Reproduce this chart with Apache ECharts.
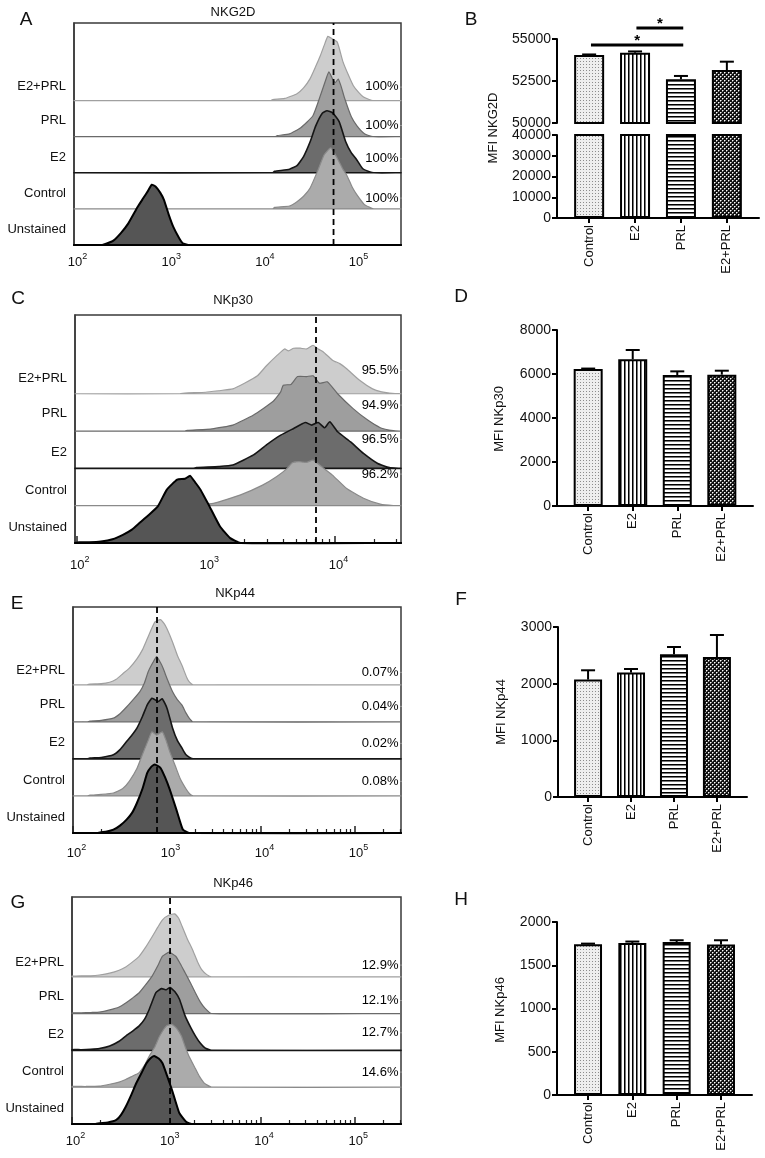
<!DOCTYPE html>
<html><head><meta charset="utf-8">
<script src="https://cdn.jsdelivr.net/npm/echarts@6/dist/echarts.min.js"></script>
<style>html,body{margin:0;padding:0;background:#fff}#c{width:765px;height:1158px}</style>
</head><body><div id="c"></div>
<script>
// ---------- DATA ----------
const rowNames = ['Unstained', 'Control', 'E2', 'PRL', 'E2+PRL'];
const groups = ['Control', 'E2', 'PRL', 'E2+PRL'];

// Histogram curves: [log10 fluorescence, height in row units]
const nkg2dUnstained = [[2,0],[2.3,0],[2.35,0.04],[2.42,0.12],[2.5,0.33],[2.58,0.6],[2.68,1.06],[2.74,1.3],[2.79,1.5],[2.83,1.67],[2.87,1.62],[2.92,1.45],[2.96,1.25],[3.01,0.85],[3.06,0.5],[3.12,0.2],[3.16,0.05],[3.22,0],[5.49,0]];
const nkg2dControl = [[2,0],[4.12,0],[4.14,0.04],[4.3,0.08],[4.38,0.2],[4.45,0.35],[4.52,0.58],[4.6,1.05],[4.67,1.5],[4.74,1.69],[4.8,1.45],[4.87,1.1],[4.91,0.94],[4.97,0.6],[5.02,0.39],[5.1,0.12],[5.16,0.04],[5.2,0],[5.49,0]];
const nkg2dE2 = [[2,0],[4.12,0],[4.14,0.04],[4.3,0.1],[4.38,0.2],[4.45,0.45],[4.52,0.86],[4.58,1.3],[4.65,1.65],[4.7,1.72],[4.76,1.66],[4.83,1.42],[4.9,0.86],[4.96,0.55],[5.01,0.39],[5.08,0.12],[5.16,0.02],[5.2,0],[5.49,0]];
const nkg2dPRL = [[2,0],[4.15,0],[4.17,0.03],[4.3,0.08],[4.42,0.25],[4.55,0.58],[4.63,1.14],[4.69,1.6],[4.72,1.8],[4.76,1.6],[4.79,1.5],[4.82,1.6],[4.85,1.4],[4.89,1.05],[4.96,0.55],[5.02,0.3],[5.1,0.08],[5.19,0],[5.49,0]];
const nkg2dE2PRL = [[2,0],[4.1,0],[4.12,0.03],[4.25,0.06],[4.38,0.19],[4.45,0.35],[4.52,0.61],[4.58,0.95],[4.63,1.25],[4.68,1.6],[4.71,1.78],[4.75,1.72],[4.81,1.62],[4.87,1.08],[4.93,0.7],[4.98,0.42],[5.04,0.22],[5.09,0.1],[5.15,0.03],[5.19,0],[5.49,0]];

const nkp30Unstained = [[1.99,0],[2.02,0.02],[2.1,0.02],[2.19,0.04],[2.28,0.1],[2.36,0.22],[2.43,0.36],[2.49,0.54],[2.56,0.75],[2.63,0.98],[2.7,1.43],[2.78,1.7],[2.84,1.72],[2.88,1.8],[2.92,1.62],[2.96,1.43],[3.03,0.98],[3.11,0.45],[3.19,0.13],[3.27,0],[4.51,0]];
const nkp30Control = [[1.99,0],[2.85,0],[2.9,0.02],[3.06,0.06],[3.27,0.29],[3.44,0.55],[3.55,0.78],[3.63,1.0],[3.67,1.15],[3.72,1.18],[3.78,1.16],[3.83,1.22],[3.88,1.09],[3.98,0.82],[4.09,0.46],[4.22,0.2],[4.35,0.04],[4.45,0],[4.51,0]];
const nkp30E2 = [[1.99,0],[2.9,0],[2.93,0.02],[3.1,0.05],[3.21,0.09],[3.37,0.36],[3.47,0.63],[3.58,0.89],[3.68,1.07],[3.77,1.23],[3.82,1.16],[3.87,1.23],[3.92,1.09],[3.96,1.25],[4.02,0.98],[4.12,0.71],[4.22,0.4],[4.33,0.13],[4.42,0.02],[4.51,0]];
const nkp30PRL = [[1.99,0],[2.84,0],[2.86,0.02],[3.05,0.06],[3.21,0.16],[3.37,0.43],[3.52,0.79],[3.58,1.05],[3.6,1.23],[3.66,1.25],[3.71,1.46],[3.78,1.46],[3.83,1.48],[3.88,1.28],[3.94,1.32],[4.02,1.0],[4.14,0.6],[4.25,0.3],[4.35,0.09],[4.45,0.01],[4.51,0]];
const nkp30E2PRL = [[1.99,0],[2.8,0],[2.84,0.02],[3.0,0.04],[3.1,0.08],[3.21,0.13],[3.3,0.28],[3.4,0.48],[3.47,0.75],[3.55,1.02],[3.61,1.2],[3.64,1.15],[3.68,1.22],[3.73,1.22],[3.78,1.2],[3.83,1.3],[3.87,1.2],[3.91,1.12],[3.98,0.9],[4.04,0.8],[4.09,0.67],[4.19,0.36],[4.29,0.13],[4.36,0.05],[4.42,0.02],[4.51,0]];

const nkp44Unstained = [[2,0],[2.25,0],[2.3,0.02],[2.36,0.04],[2.43,0.09],[2.5,0.2],[2.57,0.36],[2.63,0.55],[2.68,0.81],[2.74,1.2],[2.79,1.62],[2.83,1.78],[2.87,1.85],[2.93,1.76],[2.98,1.5],[3.03,1.17],[3.1,0.63],[3.14,0.3],[3.17,0.09],[3.24,0],[5.49,0]];
const nkp44Control = [[2,0],[2.15,0],[2.18,0.02],[2.3,0.04],[2.43,0.08],[2.53,0.2],[2.6,0.4],[2.68,0.74],[2.75,1.19],[2.8,1.5],[2.84,1.73],[2.89,1.64],[2.95,1.73],[2.99,1.5],[3.03,1.19],[3.09,0.8],[3.14,0.47],[3.2,0.2],[3.24,0.06],[3.28,0],[5.49,0]];
const nkp44E2 = [[2,0],[2.15,0],[2.18,0.02],[2.3,0.04],[2.43,0.11],[2.5,0.25],[2.57,0.47],[2.63,0.65],[2.68,0.83],[2.74,1.15],[2.79,1.46],[2.84,1.64],[2.87,1.6],[2.91,1.55],[2.95,1.62],[3.0,1.37],[3.06,0.83],[3.11,0.5],[3.16,0.29],[3.2,0.12],[3.24,0.04],[3.28,0],[5.49,0]];
const nkp44PRL = [[2,0],[2.15,0],[2.18,0.02],[2.3,0.04],[2.43,0.1],[2.5,0.22],[2.57,0.4],[2.64,0.6],[2.71,0.81],[2.76,1.05],[2.8,1.35],[2.85,1.6],[2.89,1.76],[2.93,1.6],[2.96,1.44],[3.0,1.17],[3.06,0.81],[3.11,0.6],[3.16,0.45],[3.2,0.25],[3.24,0.09],[3.28,0],[5.49,0]];
const nkp44E2PRL = [[2,0],[2.15,0],[2.18,0.02],[2.3,0.03],[2.39,0.07],[2.46,0.15],[2.53,0.3],[2.6,0.45],[2.68,0.7],[2.74,0.95],[2.79,1.24],[2.87,1.69],[2.93,1.76],[2.97,1.65],[3.0,1.51],[3.06,1.15],[3.11,0.8],[3.16,0.52],[3.21,0.2],[3.24,0.07],[3.28,0],[5.49,0]];

const nkp46Unstained = [[2,0],[2.25,0],[2.29,0.02],[2.38,0.04],[2.47,0.11],[2.52,0.25],[2.57,0.47],[2.63,0.8],[2.68,1.1],[2.74,1.4],[2.79,1.65],[2.83,1.78],[2.87,1.85],[2.92,1.78],[2.96,1.65],[3.01,1.3],[3.06,0.93],[3.1,0.6],[3.14,0.29],[3.21,0.06],[3.27,0],[5.49,0]];
const nkp46Control = [[2,0.02],[2.15,0.02],[2.29,0.03],[2.4,0.08],[2.5,0.14],[2.57,0.21],[2.64,0.3],[2.71,0.39],[2.77,0.6],[2.82,0.85],[2.88,1.1],[2.93,1.39],[3.0,1.66],[3.06,1.71],[3.11,1.6],[3.16,1.39],[3.2,1.1],[3.24,0.85],[3.3,0.55],[3.35,0.3],[3.4,0.12],[3.44,0.05],[3.48,0],[5.49,0]];
const nkp46E2 = [[2,0.02],[2.1,0.02],[2.2,0.03],[2.29,0.05],[2.4,0.12],[2.5,0.25],[2.57,0.39],[2.64,0.52],[2.71,0.66],[2.77,0.85],[2.82,1.12],[2.89,1.57],[2.95,1.68],[3.0,1.65],[3.04,1.71],[3.09,1.6],[3.14,1.39],[3.2,0.94],[3.26,0.62],[3.31,0.39],[3.36,0.2],[3.41,0.07],[3.48,0],[5.49,0]];
const nkp46PRL = [[2,0.02],[2.1,0.02],[2.2,0.03],[2.29,0.04],[2.4,0.1],[2.5,0.18],[2.57,0.29],[2.64,0.42],[2.71,0.56],[2.78,0.78],[2.85,1.02],[2.91,1.3],[2.96,1.56],[3.03,1.67],[3.1,1.56],[3.15,1.35],[3.2,1.11],[3.26,0.82],[3.31,0.56],[3.36,0.32],[3.41,0.15],[3.48,0],[5.49,0]];
const nkp46E2PRL = [[2,0.02],[2.1,0.03],[2.2,0.03],[2.29,0.05],[2.4,0.1],[2.5,0.18],[2.57,0.27],[2.64,0.4],[2.71,0.55],[2.78,0.8],[2.85,1.09],[2.91,1.35],[2.96,1.55],[3.03,1.68],[3.09,1.71],[3.13,1.6],[3.17,1.36],[3.22,1.05],[3.28,0.73],[3.33,0.42],[3.38,0.18],[3.43,0.06],[3.48,0],[5.49,0]];

// gate (dashed line) positions, log10 units
const nkg2dGate = 4.77, nkp30Gate = 3.853, nkp44Gate = 2.894, nkp46Gate = 3.04;

// percent positive: Control, E2, PRL, E2+PRL
const nkg2dPct = ['100%', '100%', '100%', '100%'];
const nkp30Pct = ['96.2%', '96.5%', '94.9%', '95.5%'];
const nkp44Pct = ['0.08%', '0.02%', '0.04%', '0.07%'];
const nkp46Pct = ['14.6%', '12.7%', '12.1%', '12.9%'];

// MFI bar values (mean, SEM): Control, E2, PRL, E2+PRL
const nkg2dMean = [54050, 54185, 52600, 53150];
const nkg2dErr = [30, 75, 200, 500];
const nkp30Mean = [6227, 6670, 5955, 5970];
const nkp30Err = [20, 420, 165, 180];
const nkp44Mean = [2072, 2195, 2518, 2471];
const nkp44Err = [164, 64, 129, 388];
const nkp46Mean = [1742, 1758, 1769, 1739];
const nkp46Err = [8, 16, 20, 50];

// significance brackets for NKG2D: [from, to, level]
const nkg2dSig = [[1.03, 2.05, 55650], [0.04, 2.05, 54650]];

// ---------- STYLE / LAYOUT ----------
const FONT = '"Liberation Sans", Arial, Helvetica, sans-serif';
const TXT = {fontFamily: FONT, fontSize: 13, color: '#111'};
const curveStyles = [
  {fill: '#555555', stroke: '#000000', w: 2},
  {fill: '#ababab', stroke: '#8a8a8a', w: 1.2},
  {fill: '#6c6c6c', stroke: '#151515', w: 1.6},
  {fill: '#9e9e9e', stroke: '#6a6a6a', w: 1.2},
  {fill: '#cdcdcd', stroke: '#a0a0a0', w: 1.2}
];

function makePattern(w, h, bg, marks) {
  const cv = document.createElement('canvas');
  cv.width = w; cv.height = h;
  const ctx = cv.getContext('2d');
  ctx.fillStyle = bg; ctx.fillRect(0, 0, w, h);
  marks.forEach(m => { ctx.fillStyle = m[4]; ctx.fillRect(m[0], m[1], m[2], m[3]); });
  return cv;
}
const patterns = [
  makePattern(3, 3, '#eeeeee', [[1, 1, 1, 1, '#8c8c8c']]),
  makePattern(4, 1, '#ffffff', [[0, 0, 1, 1, '#000'], [1, 0, 1, 1, '#777']]),
  makePattern(1, 4, '#ffffff', [[0, 0, 1, 1, '#000'], [0, 1, 1, 1, '#777']]),
  makePattern(4, 4, '#111111', [[0, 0, 1, 1, '#fff'], [2, 2, 1, 1, '#fff'], [1, 0, 1, 1, '#888'], [0, 1, 1, 1, '#888'], [3, 2, 1, 1, '#888'], [2, 3, 1, 1, '#888']])
];

const option = {animation: false, backgroundColor: '#fff', grid: [], xAxis: [], yAxis: [], series: [], graphic: []};

function addHist(c) {
  const gi = option.grid.length;
  option.grid.push(Object.assign({show: true, borderColor: '#3a3a3a', borderWidth: 1.5}, c.grid));
  const minor = [];
  if (c.minor) {
    for (let n = Math.floor(c.xMin); n <= Math.floor(c.xMax); n++) {
      for (let k = 2; k <= 9; k++) { const v = n + Math.log10(k); if (v > c.xMin && v < c.xMax) minor.push(v); }
    }
  }
  const xi = option.xAxis.length;
  option.xAxis.push({type: 'value', gridIndex: gi, position: 'bottom', min: c.xMin, max: c.xMax, splitLine: {show: false},
    axisLine: {show: true, onZero: false, lineStyle: {color: '#111', width: 2}},
    axisTick: {show: c.minor, inside: true, length: 4, customValues: minor, lineStyle: {color: '#222', width: 1.2}},
    axisLabel: {customValues: c.decades, margin: c.labelMargin,
      formatter: v => '{b|10}{s|' + Math.round(v) + '}',
      rich: {b: {fontSize: 13, fontFamily: FONT, color: '#111', lineHeight: 17, verticalAlign: 'bottom', padding: [0, 0, 0, 7]},
             s: {fontSize: 9, fontFamily: FONT, color: '#111', lineHeight: 10, verticalAlign: 'top'}}}});
  option.xAxis.push({type: 'value', gridIndex: gi, position: 'bottom', min: c.xMin, max: c.xMax, splitLine: {show: false},
    axisLine: {show: false, onZero: false}, axisLabel: {show: false},
    axisTick: {show: c.minor, inside: true, length: 7, customValues: c.decades, lineStyle: {color: '#222', width: 1.5}}});
  const yi = option.yAxis.length;
  option.yAxis.push({type: 'value', gridIndex: gi, min: 0, max: c.yMax, splitLine: {show: false},
    axisLine: {show: true, lineStyle: {color: '#3a3a3a', width: 1.5}}, axisTick: {show: false},
    axisLabel: Object.assign({customValues: [0.42, 1.42, 2.44, 3.46, 4.4], margin: 8,
      formatter: v => rowNames[Math.round(v - 0.42)]}, TXT)});
  for (let k = 4; k >= 0; k--) {
    const curve = c.curves[k], st = curveStyles[k];
    option.series.push({type: 'custom', xAxisIndex: xi, yAxisIndex: yi, data: curve, silent: true, z: 2,
      renderItem: (params, api) => {
        if (params.dataIndexInside !== 0) return null;
        const pts = curve.map(p => api.coord([p[0], k + p[1]]));
        pts.unshift(api.coord([curve[0][0], k]));
        pts.push(api.coord([curve[curve.length - 1][0], k]));
        return {type: 'polygon', shape: {points: pts, smooth: 0.15}, style: {fill: st.fill, stroke: st.stroke, lineWidth: st.w, lineJoin: 'round'}};
      }});
  }
  option.series.push({type: 'line', xAxisIndex: xi, yAxisIndex: yi, data: [[c.gate, 0], [c.gate, c.yMax]],
    symbol: 'none', silent: true, z: 6, clip: false, lineStyle: {color: '#000', width: 1.8, type: [6, 4]}});
  option.series.push({type: 'scatter', xAxisIndex: xi, yAxisIndex: yi, symbolSize: 1, itemStyle: {color: '#ffffff'}, z: 7, silent: true,
    data: c.pctY.map((o, i) => [c.xMax, i + 1 + o]),
    label: {show: true, position: 'left', distance: 2, formatter: p => c.pct[p.dataIndex], fontFamily: FONT, fontSize: 13,
      color: '#000', textBorderWidth: 0, opacity: 1}});
}

function addBar(g, o) {
  const gi = option.grid.length;
  option.grid.push(g);
  const xi = option.xAxis.length;
  option.xAxis.push({type: 'value', gridIndex: gi, position: 'bottom', min: -0.7, max: 3.7, show: o.showX, splitLine: {show: false},
    axisLine: {show: true, onZero: false, lineStyle: {color: '#000', width: 2}},
    axisTick: {show: true, customValues: [0, 1, 2, 3], length: 5, lineStyle: {color: '#000', width: 2}},
    axisLabel: Object.assign({customValues: [0, 1, 2, 3], rotate: 90, margin: 7, formatter: v => groups[Math.round(v)]}, TXT)});
  const yi = option.yAxis.length;
  option.yAxis.push({type: 'value', gridIndex: gi, position: 'left', min: o.min, max: o.max, interval: o.interval, splitLine: {show: false},
    axisLine: {show: true, onZero: false, lineStyle: {color: '#000', width: 2}},
    axisTick: {show: true, length: 5, lineStyle: {color: '#000', width: 2}},
    axisLabel: Object.assign({}, TXT, {margin: 6, fontSize: 14, formatter: v => String(v)})});
  option.series.push({type: 'bar', xAxisIndex: xi, yAxisIndex: yi, barWidth: o.barWidth, clip: true, silent: true,
    data: o.mean.map((v, i) => ({value: [i, v], itemStyle: {color: {image: patterns[i], repeat: 'repeat'}, borderColor: '#000', borderWidth: 2}}))});
  if (o.err) {
    const mean = o.mean, err = o.err;
    // all error bars drawn in one pass, through the axis scale
    option.series.push({type: 'custom', xAxisIndex: xi, yAxisIndex: yi, z: 4, silent: true, clip: false,
      data: [[1.5, o.min]],
      renderItem: (params, api) => {
        if (params.dataIndexInside !== 0) return null;
        const children = [];
        for (let i = 0; i < mean.length; i++) {
          const b = api.coord([i, mean[i]]);
          const t = api.coord([i, mean[i] + err[i]]);
          children.push({type: 'polyline', shape: {points: [b, t]}, style: {stroke: '#000', lineWidth: 2, fill: null}});
          children.push({type: 'polyline', shape: {points: [[t[0] - 7, t[1]], [t[0] + 7, t[1]]]}, style: {stroke: '#000', lineWidth: 2, fill: null}});
        }
        return {type: 'group', children: children};
      }});
  }
  return {xi, yi};
}

// ---------- PANELS ----------
addHist({grid: {left: 74, top: 23, width: 327, height: 222}, xMin: 2, xMax: 5.49, yMax: 6.15, decades: [2, 3, 4, 5], minor: false, labelMargin: 7,
  curves: [nkg2dUnstained, nkg2dControl, nkg2dE2, nkg2dPRL, nkg2dE2PRL], gate: nkg2dGate, pct: nkg2dPct, pctY: [0.3, 0.39, 0.31, 0.38]});
addHist({grid: {left: 75, top: 315, width: 326, height: 228}, xMin: 1.99, xMax: 4.51, yMax: 6.11, decades: [2, 3, 4], minor: true, labelMargin: 12,
  curves: [nkp30Unstained, nkp30Control, nkp30E2, nkp30PRL, nkp30E2PRL], gate: nkp30Gate, pct: nkp30Pct, pctY: [0.85, 0.78, 0.7, 0.63]});
addHist({grid: {left: 73, top: 607, width: 328, height: 226}, xMin: 2, xMax: 5.49, yMax: 6.1, decades: [2, 3, 4, 5], minor: true, labelMargin: 10,
  curves: [nkp44Unstained, nkp44Control, nkp44E2, nkp44PRL, nkp44E2PRL], gate: nkp44Gate, pct: nkp44Pct, pctY: [0.4, 0.42, 0.42, 0.34]});
addHist({grid: {left: 72, top: 897, width: 329, height: 227}, xMin: 2, xMax: 5.49, yMax: 6.17, decades: [2, 3, 4, 5], minor: true, labelMargin: 7,
  curves: [nkp46Unstained, nkp46Control, nkp46E2, nkp46PRL, nkp46E2PRL], gate: nkp46Gate, pct: nkp46Pct, pctY: [0.41, 0.48, 0.36, 0.32]});

const bUp = addBar({left: 557, top: 39, width: 202, height: 84}, {showX: false, min: 50000, max: 55000, interval: 2500, barWidth: 30, mean: nkg2dMean, err: nkg2dErr});
addBar({left: 557, top: 135, width: 202, height: 83}, {showX: true, min: 0, max: 40000, interval: 10000, barWidth: 30, mean: nkg2dMean});
option.series.push({type: 'custom', xAxisIndex: bUp.xi, yAxisIndex: bUp.yi, z: 5, silent: true, clip: false, data: [[1.5, 50000]],
  renderItem: (params, api) => {
    if (params.dataIndexInside !== 0) return null;
    const children = [];
    nkg2dSig.forEach(s => {
      const a = api.coord([s[0], s[2]]);
      const b = api.coord([s[1], s[2]]);
      children.push({type: 'polyline', shape: {points: [a, b]}, style: {stroke: '#000', lineWidth: 3, fill: null}});
      children.push({type: 'text', x: (a[0] + b[0]) / 2, y: a[1] - 4, style: {text: '*', fontSize: 15, fontFamily: FONT, fontWeight: 'bold', fill: '#000', align: 'center', verticalAlign: 'middle'}});
    });
    return {type: 'group', children: children};
  }});
addBar({left: 557, top: 330, width: 196, height: 176}, {showX: true, min: 0, max: 8000, interval: 2000, barWidth: 29, mean: nkp30Mean, err: nkp30Err});
addBar({left: 558, top: 627, width: 189, height: 170}, {showX: true, min: 0, max: 3000, interval: 1000, barWidth: 28, mean: nkp44Mean, err: nkp44Err});
addBar({left: 557, top: 922, width: 195, height: 173}, {showX: true, min: 0, max: 2000, interval: 500, barWidth: 28, mean: nkp46Mean, err: nkp46Err});

// ---------- TEXT ----------
function txt(s, x, y, size, rot) {
  option.graphic.push({type: 'text', x: x, y: y, rotation: rot || 0, silent: true,
    style: {text: s, fontSize: size, fontFamily: FONT, fill: '#111', align: 'center', verticalAlign: 'middle'}});
}
[['A', 26, 20], ['B', 471, 20], ['C', 18, 299], ['D', 461, 297], ['E', 17, 604], ['F', 461, 600], ['G', 18, 903], ['H', 461, 900]]
  .forEach(l => txt(l[0], l[1], l[2], 19));
[['NKG2D', 233, 12], ['NKp30', 233, 300], ['NKp44', 235, 593], ['NKp46', 233, 883]].forEach(l => txt(l[0], l[1], l[2], 13));
[['MFI NKG2D', 493, 128], ['MFI NKp30', 499, 419], ['MFI NKp44', 501, 712], ['MFI NKp46', 500, 1010]].forEach(l => txt(l[0], l[1], l[2], 13, Math.PI / 2));

const chart = echarts.init(document.getElementById('c'), null, {renderer: 'canvas'});
chart.setOption(option);
</script>
</body></html>
